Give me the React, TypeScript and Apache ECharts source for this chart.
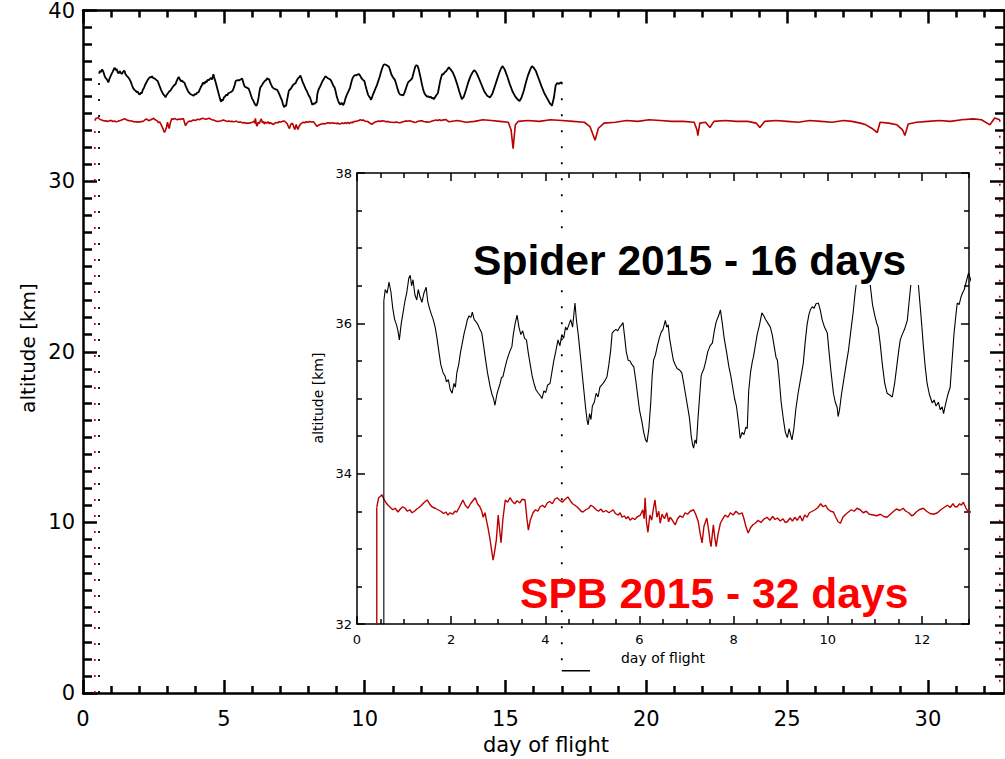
import React, { useEffect, useRef } from "react";
import * as echarts from "echarts";

// Spider 2015 flight altitude (km) vs day of flight
const spiderDays = [
  0.57, 0.6, 0.64, 0.68, 0.72, 0.76, 0.8, 0.84, 0.87, 0.9, 0.94, 0.98, 1.02, 1.06, 1.1, 1.13, 1.16, 1.19, 1.23, 1.27,
  1.3, 1.34, 1.38, 1.42, 1.47, 1.5, 1.54, 1.58, 1.62, 1.66, 1.7, 1.74, 1.78, 1.83, 1.87, 1.9, 1.94, 1.98, 2.02, 2.06,
  2.09, 2.12, 2.16, 2.2, 2.24, 2.28, 2.31, 2.34, 2.38, 2.42, 2.45, 2.49, 2.53, 2.57, 2.61, 2.65, 2.69, 2.73, 2.77, 2.8,
  2.83, 2.87, 2.9, 2.93, 2.97, 3.0, 3.04, 3.07, 3.1, 3.14, 3.18, 3.22, 3.26, 3.29, 3.32, 3.36, 3.4, 3.44, 3.48, 3.52,
  3.56, 3.6, 3.64, 3.68, 3.72, 3.76, 3.8, 3.84, 3.88, 3.93, 3.97, 4.01, 4.05, 4.1, 4.14, 4.18, 4.22, 4.27, 4.31, 4.35,
  4.39, 4.43, 4.46, 4.5, 4.54, 4.58, 4.63, 4.66, 4.7, 4.74, 4.78, 4.82, 4.86, 4.89, 4.91, 4.94, 4.97, 5.0, 5.04, 5.08,
  5.12, 5.16, 5.2, 5.25, 5.31, 5.35, 5.39, 5.42, 5.46, 5.5, 5.54, 5.58, 5.62, 5.65, 5.68, 5.72, 5.76, 5.8, 5.84, 5.88,
  5.92, 5.96, 6.0, 6.05, 6.09, 6.13, 6.16, 6.2, 6.24, 6.27, 6.3, 6.34, 6.38, 6.42, 6.46, 6.5, 6.55, 6.58, 6.61, 6.64,
  6.68, 6.72, 6.76, 6.8, 6.85, 6.9, 6.94, 6.98, 7.02, 7.06, 7.1, 7.13, 7.15, 7.18, 7.21, 7.24, 7.28, 7.31, 7.33, 7.37,
  7.41, 7.45, 7.5, 7.55, 7.59, 7.63, 7.68, 7.72, 7.76, 7.8, 7.85, 7.9, 7.94, 7.98, 8.02, 8.06, 8.1, 8.14, 8.18, 8.22,
  8.26, 8.29, 8.32, 8.36, 8.4, 8.42, 8.46, 8.5, 8.55, 8.6, 8.64, 8.68, 8.73, 8.78, 8.82, 8.86, 8.9, 8.93, 8.97, 9.01,
  9.06, 9.1, 9.14, 9.18, 9.21, 9.24, 9.28, 9.32, 9.37, 9.42, 9.48, 9.52, 9.56, 9.6, 9.63, 9.67, 9.71, 9.75, 9.8, 9.84,
  9.88, 9.93, 9.99, 10.03, 10.07, 10.12, 10.16, 10.2, 10.22, 10.25, 10.29, 10.34, 10.39, 10.44, 10.49, 10.54, 10.58,
  10.62, 10.66, 10.7, 10.75, 10.8, 10.86, 10.9, 10.95, 11.0, 11.04, 11.07, 11.11, 11.16, 11.21, 11.26, 11.31, 11.37,
  11.42, 11.47, 11.51, 11.54, 11.58, 11.63, 11.66, 11.69, 11.73, 11.77, 11.8, 11.84, 11.88, 11.92, 11.96, 12.0, 12.03,
  12.07, 12.11, 12.16, 12.22, 12.26, 12.3, 12.35, 12.39, 12.43, 12.46, 12.5, 12.55, 12.6, 12.64, 12.68, 12.72, 12.75,
  12.79, 12.83, 12.86, 12.9, 12.94, 12.99, 13.05, 13.12, 13.2, 13.28, 13.36, 13.45, 13.52, 13.6, 13.68, 13.76, 13.84,
  13.9, 13.97, 14.05, 14.15, 14.25, 14.35, 14.45, 14.53, 14.62, 14.7, 14.78, 14.84, 14.9, 14.97, 15.05, 15.15, 15.25,
  15.35, 15.45, 15.5, 15.57, 15.65, 15.72, 15.8, 15.88, 15.94, 16.0, 16.08, 16.18, 16.28, 16.38, 16.48, 16.58, 16.65,
  16.72, 16.78, 16.84, 16.9, 16.95, 17.0,
];
const spiderAlt = [
  36.3, 36.45, 36.4, 36.55, 36.42, 36.2, 36.05, 35.98, 35.9, 35.78, 36.0, 36.15, 36.3, 36.42, 36.6, 36.64, 36.5, 36.58, 36.38, 36.31,
  36.45, 36.35, 36.28, 36.4, 36.48, 36.3, 36.2, 36.12, 36.05, 35.95, 35.8, 35.62, 35.45, 35.34, 35.3, 35.22, 35.25, 35.12, 35.07, 35.2,
  35.15, 35.34, 35.45, 35.62, 35.75, 35.88, 35.95, 36.04, 36.1, 36.08, 36.15, 36.05, 36.02, 35.98, 35.92, 35.87, 35.7, 35.52, 35.35, 35.25,
  35.15, 35.05, 35.0, 34.91, 35.05, 35.12, 35.2, 35.28, 35.29, 35.4, 35.5, 35.58, 35.65, 35.69, 35.85, 36.0, 36.11, 35.95, 35.85, 35.9,
  35.8, 35.78, 35.6, 35.45, 35.3, 35.2, 35.12, 35.08, 35.05, 35.0, 35.1, 35.08, 35.18, 35.2, 35.35, 35.5, 35.62, 35.78, 35.7, 35.85,
  35.8, 35.95, 35.91, 35.98, 36.05, 35.95, 36.27, 36.05, 35.85, 35.6, 35.35, 35.1, 34.85, 34.7, 34.65, 34.8, 34.72, 34.9, 34.95, 35.07,
  35.02, 35.15, 35.18, 35.22, 35.29, 35.45, 35.65, 35.87, 35.9, 35.92, 35.9, 35.95, 35.98, 36.01, 35.85, 35.62, 35.51, 35.5, 35.45, 35.42,
  35.25, 35.05, 34.85, 34.7, 34.55, 34.45, 34.42, 34.6, 34.95, 35.3, 35.51, 35.58, 35.7, 35.8, 35.88, 35.92, 36.04, 35.95, 35.98, 35.8,
  35.65, 35.51, 35.45, 35.4, 35.38, 35.34, 35.2, 35.05, 34.9, 34.75, 34.5, 34.38, 34.34, 34.45, 34.4, 34.7, 35.05, 35.3, 35.34, 35.4,
  35.5, 35.62, 35.7, 35.74, 35.9, 36.02, 36.1, 36.18, 36.0, 35.8, 35.62, 35.42, 35.3, 35.15, 35.0, 34.9, 34.7, 34.47, 34.55, 34.52,
  34.62, 34.6, 35.1, 35.35, 35.5, 35.55, 35.7, 35.85, 35.98, 36.14, 36.1, 36.05, 36.0, 35.95, 35.85, 35.7, 35.55, 35.51, 35.25, 34.95,
  34.71, 34.55, 34.48, 34.6, 34.52, 34.45, 34.6, 34.85, 35.07, 35.25, 35.47, 35.75, 35.98, 36.12, 36.18, 36.22, 36.2, 36.26, 36.27, 36.18,
  36.05, 35.95, 35.87, 35.6, 35.35, 35.07, 34.95, 34.88, 34.76, 34.85, 35.05, 35.25, 35.45, 35.64, 35.9, 36.15, 36.4,
  36.6, 36.78, 36.85, 36.82, 36.78, 36.7, 36.52, 36.25, 36.1, 36.0, 35.95, 35.75, 35.45, 35.2, 35.07, 35.05, 35.02,
  35.2, 35.45, 35.65, 35.78, 35.85, 35.92, 35.98, 36.04, 36.3, 36.55, 36.72, 36.8, 36.75, 36.55, 36.25, 35.95, 35.7,
  35.42, 35.2, 35.05, 34.94, 34.98, 34.9, 34.95, 34.85, 34.89, 34.8, 34.92, 35.05, 35.15, 35.5, 35.85, 36.1, 36.27,
  36.25, 36.35, 36.4, 36.45, 36.55, 36.67, 36.55, 36.4, 36.1, 35.7, 35.25, 34.8, 34.95, 35.35, 35.8, 36.15, 36.4,
  36.5, 36.35, 36.05, 35.65, 35.25, 35.0, 34.9, 35.1, 35.55, 35.95, 36.35, 36.6, 36.74, 36.55, 36.2, 35.7, 35.25,
  34.95, 34.75, 34.7, 34.9, 35.3, 35.75, 36.2, 36.55, 36.74, 36.65, 36.45, 36.0, 35.55, 35.15, 34.85, 34.55, 34.42,
  34.9, 35.6, 35.75, 35.7, 35.76, 35.8,
];

// SPB 2015 flight altitude (km) vs day of flight
const spbDays = [
  0.42, 0.46, 0.5, 0.53, 0.57, 0.61, 0.66, 0.71, 0.76, 0.81, 0.87, 0.92, 0.97, 1.02, 1.07, 1.12, 1.17, 1.22, 1.27, 1.32,
  1.37, 1.43, 1.49, 1.54, 1.59, 1.66, 1.72, 1.78, 1.84, 1.89, 1.93, 1.98, 2.03, 2.08, 2.12, 2.17, 2.21, 2.25, 2.3, 2.36,
  2.41, 2.46, 2.51, 2.56, 2.61, 2.65, 2.68, 2.72, 2.75, 2.78, 2.82, 2.86, 2.89, 2.92, 2.96, 3.0, 3.03, 3.06, 3.1, 3.15,
  3.2, 3.25, 3.3, 3.35, 3.4, 3.46, 3.51, 3.57, 3.61, 3.64, 3.68, 3.74, 3.79, 3.84, 3.89, 3.94, 3.99, 4.04, 4.09, 4.15,
  4.2, 4.25, 4.3, 4.36, 4.42, 4.48, 4.53, 4.58, 4.63, 4.67, 4.72, 4.76, 4.8, 4.86, 4.92, 4.97, 5.02, 5.08, 5.13, 5.18,
  5.23, 5.29, 5.35, 5.4, 5.44, 5.49, 5.55, 5.59, 5.63, 5.68, 5.72, 5.76, 5.8, 5.85, 5.9, 5.96, 6.02, 6.07, 6.1, 6.12,
  6.15, 6.18, 6.22, 6.26, 6.3, 6.33, 6.37, 6.41, 6.44, 6.48, 6.53, 6.58, 6.62, 6.65, 6.7, 6.76, 6.81, 6.86, 6.92, 6.97,
  7.02, 7.08, 7.15, 7.2, 7.25, 7.29, 7.33, 7.37, 7.43, 7.47, 7.5, 7.52, 7.57, 7.6, 7.63, 7.67, 7.72, 7.77, 7.82, 7.88,
  7.93, 7.99, 8.05, 8.12, 8.18, 8.22, 8.26, 8.31, 8.36, 8.41, 8.46, 8.52, 8.58, 8.65, 8.71, 8.77, 8.83, 8.88, 8.93, 8.99,
  9.05, 9.1, 9.14, 9.2, 9.25, 9.3, 9.35, 9.41, 9.46, 9.51, 9.56, 9.61, 9.67, 9.73, 9.79, 9.85, 9.9, 9.95, 10.0, 10.06,
  10.12, 10.17, 10.22, 10.27, 10.32, 10.38, 10.44, 10.5, 10.56, 10.62, 10.69, 10.75, 10.82, 10.88, 10.97, 11.04, 11.12,
  11.19, 11.26, 11.33, 11.4, 11.46, 11.53, 11.6, 11.66, 11.72, 11.78, 11.82, 11.88, 11.94, 12.03, 12.1, 12.17, 12.25,
  12.33, 12.4, 12.47, 12.54, 12.6, 12.66, 12.7, 12.75, 12.8, 12.84, 12.88, 12.93, 12.99, 13.3, 13.6, 13.9, 14.2, 14.5,
  14.8, 15.1, 15.2, 15.27, 15.35, 15.45, 15.8, 16.2, 16.6, 17.0, 17.4, 17.8, 18.0, 18.18, 18.3, 18.5, 18.9, 19.3, 19.7,
  20.1, 20.5, 20.9, 21.3, 21.7, 21.8, 21.83, 21.9, 22.1, 22.26, 22.4, 22.8, 23.2, 23.6, 23.9, 24.03, 24.2, 24.6, 25.0,
  25.4, 25.8, 26.2, 26.6, 27.0, 27.3, 27.6, 27.8, 28.0, 28.2, 28.3, 28.6, 28.9, 29.1, 29.18, 29.3, 29.6, 30.0, 30.4,
  30.8, 31.2, 31.6, 31.9, 32.2, 32.37, 32.55,
];
const spbAlt = [
  33.55, 33.68, 33.7, 33.72, 33.66, 33.62, 33.58, 33.55, 33.52, 33.54, 33.49, 33.53, 33.56, 33.54, 33.5, 33.52, 33.48, 33.5, 33.53, 33.55,
  33.58, 33.62, 33.65, 33.6, 33.56, 33.54, 33.52, 33.5, 33.47, 33.49, 33.45, 33.48, 33.46, 33.5, 33.49, 33.55, 33.6, 33.65, 33.58, 33.54,
  33.6, 33.64, 33.68, 33.6, 33.56, 33.5, 33.42, 33.48, 33.38, 33.29, 33.15, 32.98, 32.85, 32.95, 33.12, 33.45, 33.25, 33.08, 33.4, 33.65,
  33.62, 33.68, 33.63, 33.6, 33.64, 33.61, 33.66, 33.65, 33.4, 33.25, 33.38, 33.48, 33.52, 33.5, 33.56, 33.58, 33.55, 33.61, 33.63, 33.6,
  33.66, 33.68, 33.65, 33.62, 33.66, 33.69, 33.64, 33.6, 33.58, 33.56, 33.53, 33.5, 33.49, 33.52, 33.54, 33.58, 33.56, 33.52, 33.5, 33.53,
  33.49, 33.51, 33.48, 33.5, 33.52, 33.47, 33.45, 33.48, 33.42, 33.44, 33.4, 33.43, 33.38, 33.41, 33.39, 33.43, 33.45, 33.52, 33.4, 33.68,
  33.35, 33.22, 33.45, 33.38, 33.55, 33.65, 33.42, 33.5, 33.34, 33.46, 33.4, 33.48, 33.36, 33.42, 33.38, 33.32, 33.4, 33.44, 33.42, 33.48,
  33.46, 33.5, 33.52, 33.45, 33.36, 33.2, 33.08, 33.3, 33.41, 33.25, 33.1, 33.03, 33.32, 33.15, 33.03, 33.2, 33.34, 33.4, 33.45, 33.42,
  33.48, 33.45, 33.5, 33.46, 33.48, 33.4, 33.3, 33.21, 33.28, 33.32, 33.34, 33.38, 33.35, 33.4, 33.42, 33.38, 33.43, 33.39, 33.41, 33.37,
  33.4, 33.35, 33.36, 33.41, 33.37, 33.42, 33.38, 33.44, 33.37, 33.45, 33.42, 33.48, 33.5, 33.52, 33.55, 33.6, 33.56, 33.58, 33.53, 33.5,
  33.49, 33.42, 33.36, 33.34, 33.42, 33.46, 33.49, 33.52, 33.5, 33.54, 33.52, 33.48, 33.5, 33.46, 33.45, 33.44, 33.46,
  33.43, 33.42, 33.46, 33.5, 33.53, 33.51, 33.54, 33.5, 33.48, 33.44, 33.45, 33.49, 33.52, 33.54, 33.5, 33.47, 33.46,
  33.48, 33.52, 33.55, 33.58, 33.55, 33.6, 33.56, 33.56, 33.6, 33.58, 33.62, 33.55, 33.48, 33.55, 33.45, 33.5, 33.6, 33.55,
  33.5, 33.45, 33.0, 31.9, 33.3, 33.5, 33.55, 33.5, 33.6, 33.55, 33.5, 33.45, 33.2, 32.4, 33.1, 33.4, 33.45, 33.55, 33.5,
  33.6, 33.55, 33.5, 33.5, 33.45, 33.0, 32.67, 33.4, 33.45, 33.14, 33.5, 33.55, 33.5, 33.5, 33.4, 33.14, 33.5, 33.55, 33.5,
  33.45, 33.55, 33.5, 33.45, 33.55, 33.5, 33.4, 33.3, 33.1, 32.85, 33.45, 33.4, 33.3, 33.0, 32.67, 33.35, 33.45, 33.5, 33.55,
  33.5, 33.6, 33.65, 33.6, 33.3, 33.7, 33.6,
];

// Launch, termination and landing legs
const spiderAscentDays = [0.57, 0.57];
const spiderAscentAlt = [0, 36.3];
const spiderDescentDays = [17.0, 17.0];
const spiderDescentAlt = [35.8, 1.3];
const spiderLandingDays = [17.0, 18.0];
const spiderLandingAlt = [1.3, 1.3];
const spbAscentDays = [0.42, 0.42];
const spbAscentAlt = [0, 33.55];
const spbDescentDays = [32.55, 32.55];
const spbDescentAlt = [33.6, 0];

// Axis ticks
const mainDayTicks = [0, 5, 10, 15, 20, 25, 30];
const mainAltTicks = [0, 10, 20, 30, 40];
const insetDayTicks = [0, 2, 4, 6, 8, 10, 12];
const insetAltTicks = [32, 34, 36, 38];

const zip = (xs: number[], ys: number[]) => xs.map((x, i) => [x, ys[i]]);

const minorBetween = (from: number, to: number, step: number, majors: number[]) => {
  const out: number[] = [];
  for (let v = from; v <= to + 1e-9; v += step) {
    const r = Math.round(v * 100) / 100;
    if (!majors.some((m) => Math.abs(m - r) < 1e-6)) out.push(r);
  }
  return out;
};

const TICK_FONT = "DejaVu Sans";
const SPIDER = "#000000";
const SPB = "#bb0000";

export default function App() {
  const ref = useRef<HTMLDivElement>(null);

  useEffect(() => {
    if (!ref.current) return;
    const chart = echarts.init(ref.current, null, { renderer: "svg" });

    const xAx = (
      gridIndex: number,
      position: "bottom" | "top",
      max: number,
      values: number[],
      len: number,
      width: number,
      showLine: boolean,
      label: any
    ) => ({
      type: "value",
      gridIndex,
      position,
      min: 0,
      max,
      splitLine: { show: false },
      axisLine: { show: showLine, onZero: false, lineStyle: { color: "#000", width } },
      axisTick: { show: true, inside: true, length: len, customValues: values, lineStyle: { color: "#000", width } },
      axisLabel: label ? { ...label, customValues: values } : { show: false },
    });

    const yAx = (
      gridIndex: number,
      position: "left" | "right",
      ticks: number[],
      minorSplit: number,
      majorLen: number,
      minorLen: number,
      width: number,
      label: any
    ) => ({
      type: "value",
      gridIndex,
      position,
      min: ticks[0],
      max: ticks[ticks.length - 1],
      interval: ticks[1] - ticks[0],
      splitLine: { show: false },
      axisLine: { show: true, onZero: false, lineStyle: { color: "#000", width } },
      axisTick: { show: true, inside: true, length: majorLen, lineStyle: { color: "#000", width } },
      minorTick: { show: true, splitNumber: minorSplit, length: minorLen, lineStyle: { color: "#000", width } },
      minorSplitLine: { show: false },
      axisLabel: label || { show: false },
    });

    const mainMinorX = minorBetween(0, 32, 1, mainDayTicks);
    const insetMinorX = minorBetween(0, 13, 0.5, insetDayTicks);

    const mainLabel = { show: true, color: "#000", fontFamily: TICK_FONT, fontSize: 21 };
    const insetLabel = { show: true, color: "#000", fontFamily: TICK_FONT, fontSize: 13 };

    const line = (
      data: number[][],
      xAxisIndex: number,
      yAxisIndex: number,
      color: string,
      width: number,
      type: any = "solid"
    ) => ({
      type: "line",
      xAxisIndex,
      yAxisIndex,
      data,
      showSymbol: false,
      symbol: "none",
      silent: true,
      clip: true,
      lineStyle: { color, width, type },
    });

    const dots: any = [2, 14];

    const centred = (text: string, x: number, y: number, font: string, rotation = 0) => ({
      type: "text",
      x,
      y,
      rotation,
      style: {
        text,
        fill: "#000",
        font,
        align: "center",
        verticalAlign: "middle",
        textAlign: "center",
        textVerticalAlign: "middle",
      },
    });

    chart.setOption({
      animation: false,
      backgroundColor: "#fff",
      grid: [
        { left: 83, top: 7, width: 921, height: 686, containLabel: false },
        {
          left: 357,
          top: 173,
          width: 612,
          height: 451,
          show: true,
          backgroundColor: "#fff",
          borderWidth: 0,
          containLabel: false,
        },
      ],
      xAxis: [
        xAx(0, "bottom", 32.7, mainDayTicks, 13, 2.5, true, { ...mainLabel, margin: 15 }),
        xAx(0, "bottom", 32.7, mainMinorX, 7, 2.5, false, null),
        xAx(0, "top", 32.7, mainDayTicks, 13, 2.5, true, null),
        xAx(0, "top", 32.7, mainMinorX, 7, 2.5, false, null),
        xAx(1, "bottom", 13, insetDayTicks, 8, 1.5, true, { ...insetLabel, margin: 9 }),
        xAx(1, "bottom", 13, insetMinorX, 5, 1.5, false, null),
        xAx(1, "top", 13, insetDayTicks, 8, 1.5, true, null),
        xAx(1, "top", 13, insetMinorX, 5, 1.5, false, null),
      ],
      yAxis: [
        yAx(0, "left", mainAltTicks, 10, 14, 9, 2.5, { ...mainLabel, margin: 8 }),
        yAx(0, "right", mainAltTicks, 10, 14, 9, 2.5, null),
        yAx(1, "left", insetAltTicks, 4, 8, 5, 1.5, { ...insetLabel, margin: 5 }),
        yAx(1, "right", insetAltTicks, 4, 8, 5, 1.5, null),
      ],
      series: [
        // main panel
        line(zip(spbDays, spbAlt), 0, 0, SPB, 1.6),
        line(zip(spbAscentDays, spbAscentAlt), 0, 0, SPB, 1.6, dots),
        line(zip(spbDescentDays, spbDescentAlt), 0, 0, SPB, 1.6, dots),
        line(zip(spiderDays, spiderAlt), 0, 0, SPIDER, 1.8),
        line(zip(spiderAscentDays, spiderAscentAlt), 0, 0, SPIDER, 1.8, dots),
        line(zip(spiderDescentDays, spiderDescentAlt), 0, 0, SPIDER, 1.8, dots),
        line(zip(spiderLandingDays, spiderLandingAlt), 0, 0, SPIDER, 1.6),
        // inset panel
        line(zip(spbAscentDays, spbAscentAlt), 4, 2, SPB, 1.4),
        line(zip(spbDays, spbAlt), 4, 2, SPB, 1.4),
        line(zip(spiderAscentDays, spiderAscentAlt), 4, 2, SPIDER, 1.1),
        line(zip(spiderDays, spiderAlt), 4, 2, SPIDER, 1.1),
      ],
      graphic: [
        centred("altitude [km]", 28, 348, `20px '${TICK_FONT}'`, Math.PI / 2),
        centred("day of flight", 546, 745, `21px '${TICK_FONT}'`),
        centred("altitude [km]", 318, 398, `14px '${TICK_FONT}'`, Math.PI / 2),
        centred("day of flight", 663, 658, `14px '${TICK_FONT}'`),
        {
          type: "rect",
          z: 50,
          shape: { x: 464, y: 236, width: 468, height: 49 },
          style: { fill: "#fff" },
        },
        {
          type: "text",
          z: 51,
          x: 473,
          y: 260,
          style: {
            text: "Spider 2015 - 16 days",
            fill: "#000",
            font: "bold 42.6px 'Liberation Sans'",
            align: "left",
            verticalAlign: "middle",
            textAlign: "left",
            textVerticalAlign: "middle",
          },
        },
        {
          type: "text",
          z: 51,
          x: 520,
          y: 593,
          style: {
            text: "SPB 2015 - 32 days",
            fill: "#ff0000",
            font: "bold 42.6px 'Liberation Sans'",
            align: "left",
            verticalAlign: "middle",
            textAlign: "left",
            textVerticalAlign: "middle",
          },
        },
      ],
    });

    return () => chart.dispose();
  }, []);

  return (
    <div
      ref={ref}
      style={{ position: "absolute", left: 0, top: 0, width: 1005, height: 759, background: "#fff" }}
    />
  );
}
